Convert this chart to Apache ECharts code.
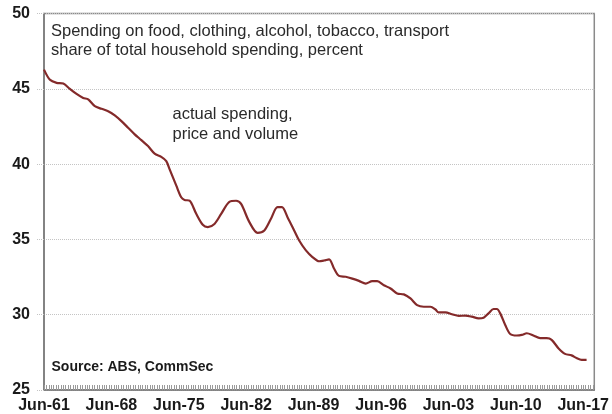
<!DOCTYPE html>
<html>
<head>
<meta charset="utf-8">
<script src="https://cdn.jsdelivr.net/npm/echarts@6/dist/echarts.min.js"></script>
<style>
html,body{margin:0;padding:0;background:#fff;}
#chart{width:612px;height:414px;}
</style>
</head>
<body>
<div id="chart"></div>
<script>
// decimal years (Jun-61 = 1961.5)
var dates = [1961.5,1962.12,1962.81,1963.5,1964.19,1964.88,1965.57,1966.09,1966.78,1967.47,
  1968.16,1968.85,1969.54,1970.23,1970.92,1971.61,1972.3,1972.99,1973.68,1974.2,
  1974.54,1975.24,1975.75,1976.1,1976.61,1977.31,1977.99,1978.51,1979.2,1979.9,
  1980.75,1981.45,1981.97,1982.83,1983.68,1984.38,1985.07,1985.75,1986.21,1986.79,
  1987.48,1988.0,1988.7,1989.38,1990.07,1990.59,1991.11,1991.62,1992.14,1992.84,
  1993.52,1994.21,1994.91,1995.59,1996.11,1996.8,1997.49,1998.18,1998.87,1999.56,
  2000.25,2000.94,2001.63,2002.15,2002.49,2003.19,2003.87,2004.57,2005.26,2005.94,
  2006.63,2007.15,2007.67,2008.19,2008.53,2008.88,2009.4,2009.92,2010.6,2011.12,
  2011.64,2012.33,2013.02,2013.71,2014.22,2014.92,2015.61,2016.29,2016.81,2017.33,2017.85];
var shareValues = [46.28,45.6,45.4,45.35,45.0,44.67,44.4,44.3,43.85,43.68,
  43.52,43.24,42.86,42.42,41.98,41.6,41.2,40.7,40.48,40.2,
  39.67,38.57,37.8,37.62,37.58,36.7,35.97,35.82,36.03,36.7,
  37.5,37.57,37.36,36.15,35.44,35.6,36.37,37.14,37.14,36.48,
  35.6,34.93,34.27,33.83,33.55,33.6,33.68,33.07,32.58,32.52,
  32.4,32.25,32.07,32.23,32.23,31.96,31.74,31.41,31.35,31.08,
  30.64,30.53,30.53,30.35,30.15,30.16,30.03,29.92,29.94,29.87,
  29.76,29.8,30.09,30.38,30.38,30.09,29.32,28.72,28.62,28.66,
  28.77,28.62,28.44,28.44,28.33,27.78,27.4,27.3,27.12,27.0,27.0];
var yTicks = [25, 30, 35, 40, 45, 50];
var xLabelYears = [1961, 1968, 1975, 1982, 1989, 1996, 2003, 2010, 2017];
var titleLines = ['Spending on food, clothing, alcohol, tobacco, transport',
                  'share of total household spending, percent'];
var noteLines = ['actual spending,', 'price and volume'];
var sourceText = 'Source: ABS, CommSec';

var seriesData = dates.map(function (d, i) { return [d, shareValues[i]]; });

var chart = echarts.init(document.getElementById('chart'), null, {renderer: 'canvas'});
var lab = {};
xLabelYears.forEach(function (y) { lab[(y + 0.5).toFixed(2)] = 'Jun-' + String(y).slice(2); });

chart.setOption({
  backgroundColor: '#ffffff',
  animation: false,
  textStyle: {fontFamily: 'Liberation Sans, Arial, sans-serif'},
  grid: {left: 44, right: 16, top: 13.6, bottom: 22.5, show: true,
         borderColor: '#8a8a8a', borderWidth: 1.5, backgroundColor: 'transparent'},
  xAxis: {
    type: 'value', min: 1961.5, max: 2018.65, interval: 0.25,
    axisLine: {show: true, lineStyle: {color: '#777', width: 1.5}},
    axisTick: {show: true, inside: true, length: 5, lineStyle: {color: '#9a9a9a', width: 1}},
    splitLine: {show: false},
    axisLabel: {
      show: true, margin: 8, color: '#1a1a1a', fontSize: 16, fontWeight: 'bold',
      fontFamily: 'Liberation Sans, Arial, sans-serif',
      showMaxLabel: false, showMinLabel: true,
      formatter: function (v) { var k = v.toFixed(2); return lab[k] || ''; }
    }
  },
  yAxis: {
    type: 'value', min: yTicks[0], max: yTicks[yTicks.length - 1], interval: 5,
    axisLine: {show: true, lineStyle: {color: '#777', width: 1.5}},
    axisTick: {show: true, length: 8, lineStyle: {color: '#c4c4c4', type: 'dotted'}},
    splitLine: {show: true, lineStyle: {color: '#c4c4c4', type: 'dotted', width: 1}},
    axisLabel: {margin: 14, color: '#1a1a1a', fontSize: 16, fontWeight: 'bold',
      fontFamily: 'Liberation Sans, Arial, sans-serif'}
  },
  series: [{
    type: 'line', data: seriesData, showSymbol: false, smooth: 0.3,
    lineStyle: {color: '#842a2a', width: 2.2},
    itemStyle: {color: '#842a2a'}
  }],
  graphic: [
    {type: 'text', left: 51, top: 23, style: {text: titleLines[0], fill: '#2a2a2a',
      font: '16.5px "Liberation Sans", Arial, sans-serif'}},
    {type: 'text', left: 51, top: 41.5, style: {text: titleLines[1], fill: '#2a2a2a',
      font: '16.5px "Liberation Sans", Arial, sans-serif'}},
    {type: 'text', left: 172.5, top: 106, style: {text: noteLines[0], fill: '#2a2a2a',
      font: '16.5px "Liberation Sans", Arial, sans-serif'}},
    {type: 'text', left: 172.5, top: 126, style: {text: noteLines[1], fill: '#2a2a2a',
      font: '16.5px "Liberation Sans", Arial, sans-serif'}},
    {type: 'text', left: 51.5, top: 360, style: {text: sourceText, fill: '#1a1a1a',
      font: 'bold 14px "Liberation Sans", Arial, sans-serif'}}
  ]
});
</script>
</body>
</html>
